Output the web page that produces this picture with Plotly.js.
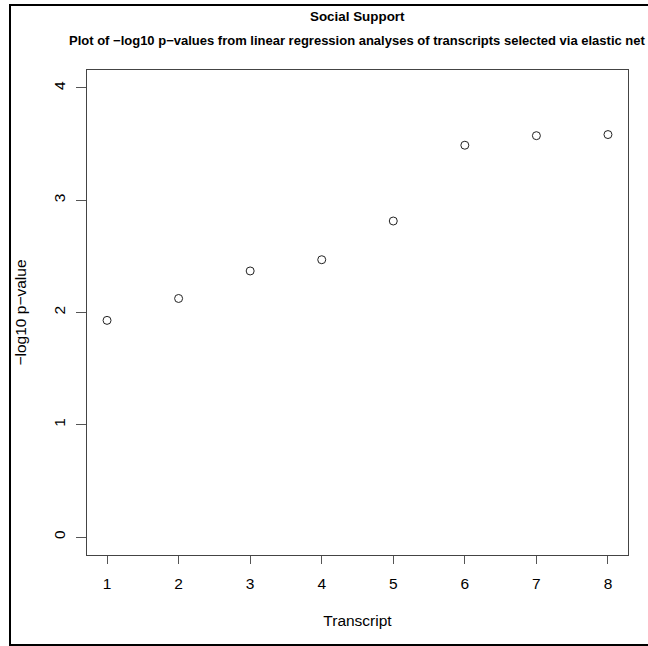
<!DOCTYPE html>
<html>
<head>
<meta charset="utf-8">
<script src="https://cdn.plot.ly/plotly-3.0.1.min.js"></script>
<style>html,body{margin:0;padding:0;background:#fff;}#chart{width:648px;height:646px;}</style>
</head>
<body>
<div id="chart"></div>
<script>
const transcripts = [1, 2, 3, 4, 5, 6, 7, 8];
const negLog10P = [1.93, 2.125, 2.37, 2.47, 2.815, 3.49, 3.575, 3.585];
const xTicks = [1, 2, 3, 4, 5, 6, 7, 8];
const yTicks = [0, 1, 2, 3, 4];
const mainTitle = "Social Support";
const subTitle = "Plot of \u2212log10 p\u2212values from linear regression analyses of transcripts selected via elastic net";
const xLabel = "Transcript";
const yLabel = "\u2212log10 p\u2212value";

const font = {family: "Liberation Sans, Arial, sans-serif", color: "#000"};

const trace = {
  x: transcripts, y: negLog10P, type: "scatter", mode: "markers",
  marker: {symbol: "circle-open", size: 8, color: "#222", line: {width: 1, color: "#222"}},
  hoverinfo: "skip"
};

const axisCommon = {
  showgrid: false, zeroline: false, showline: true, mirror: true,
  linecolor: "#444", linewidth: 1, ticks: "outside", tickcolor: "#555",
  tickwidth: 1, tickfont: Object.assign({size: 15.5}, font)
};

const layout = {
  width: 648, height: 646,
  margin: {l: 87, r: 20, t: 70, b: 91, pad: 0},
  paper_bgcolor: "#fff", plot_bgcolor: "#fff",
  showlegend: false,
  font: font,
  xaxis: Object.assign({}, axisCommon, {
    range: [0.72, 8.28], tickvals: xTicks, ticktext: xTicks.map(String), ticklen: 8,
    ticklabelstandoff: 6,
    title: {text: xLabel, font: Object.assign({size: 15.5}, font), standoff: 24}
  }),
  yaxis: Object.assign({}, axisCommon, {
    range: [-0.16, 4.16], tickvals: yTicks, ticktext: yTicks.map(String), ticklen: 10,
    tickangle: -90, ticklabelstandoff: 5,
    title: {text: yLabel, font: Object.assign({size: 15.5}, font), standoff: 20}
  }),
  annotations: [
    {text: "<b>" + mainTitle + "</b>", xref: "paper", yref: "paper", x: 0.5, y: (555 - 17) / 485,
     xanchor: "center", yanchor: "middle", showarrow: false, font: Object.assign({size: 13.4}, font)},
    {text: "<b>" + subTitle + "</b>", xref: "paper", yref: "paper", x: 0.5, y: (555 - 40) / 485,
     xanchor: "center", yanchor: "middle", showarrow: false, font: Object.assign({size: 13}, font)}
  ],
  shapes: [
    {type: "rect", xref: "paper", yref: "paper",
     x0: (10 - 87) / 541, x1: (652 - 87) / 541, y0: (555 - 645) / 485, y1: (555 - 5) / 485,
     line: {color: "#000", width: 2}, fillcolor: "rgba(0,0,0,0)", layer: "below"}
  ]
};

Plotly.newPlot("chart", [trace], layout, {displayModeBar: false, staticPlot: true});
</script>
</body>
</html>
